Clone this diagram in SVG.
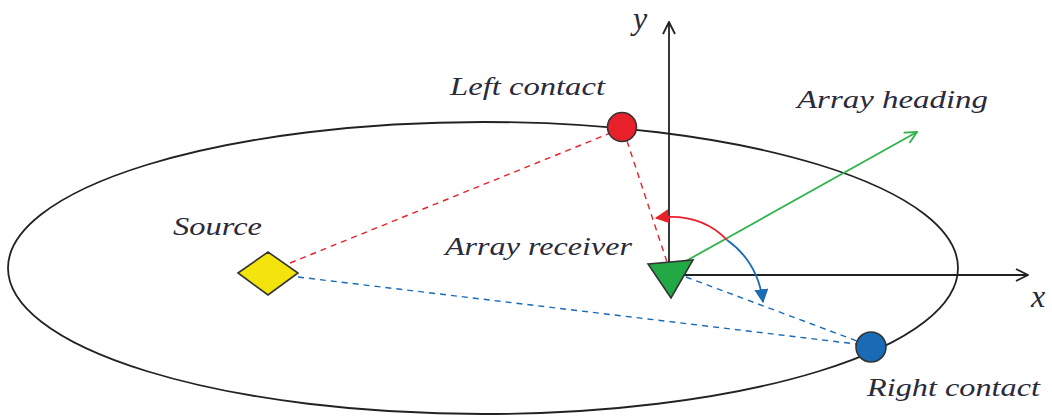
<svg xmlns="http://www.w3.org/2000/svg" width="1052" height="417" viewBox="0 0 1052 417">
<defs>
<style>
.lbl{font-family:"Liberation Serif","Times New Roman","DejaVu Serif",serif;font-style:italic;fill:#2a2a3a;font-size:26px}
.big{font-size:32px}
.axis{stroke:#222;stroke-width:1.8;fill:none}
.dash{stroke-width:1.4;stroke-dasharray:6 5;fill:none}
</style>
<marker id="open" viewBox="0 0 14 14" refX="13" refY="7" markerWidth="14" markerHeight="14" markerUnits="userSpaceOnUse" orient="auto">
<path d="M1,1 L13,7 L1,13" fill="none" stroke="#222" stroke-width="1.8"/>
</marker>
<marker id="redhead" viewBox="0 0 12 12" refX="11" refY="6" markerWidth="14" markerHeight="14" markerUnits="userSpaceOnUse" orient="auto">
<path d="M0,0 L12,6 L0,12 Z" fill="#e8202a"/>
</marker>
<marker id="bluehead" viewBox="0 0 12 12" refX="11" refY="6" markerWidth="14" markerHeight="14" markerUnits="userSpaceOnUse" orient="auto">
<path d="M0,0 L12,6 L0,12 Z" fill="#1a6bb5"/>
</marker>
<marker id="greenhead" viewBox="0 0 14 14" refX="13" refY="7" markerWidth="14" markerHeight="14" markerUnits="userSpaceOnUse" orient="auto">
<path d="M1,1 L13,7 L1,13" fill="none" stroke="#2db34a" stroke-width="1.8"/>
</marker>
</defs>
<rect width="1052" height="417" fill="#fff"/>
<ellipse cx="483" cy="268" rx="475" ry="146" fill="none" stroke="#222" stroke-width="1.8"/>
<g id="connectors">
<line class="axis" x1="669" y1="262" x2="669" y2="22" marker-end="url(#open)"/>
<line class="axis" x1="684" y1="275" x2="1028" y2="275" marker-end="url(#open)"/>
<line class="dash" stroke="#e8202a" x1="290" y1="263" x2="613" y2="132"/>
<line class="dash" stroke="#e8202a" x1="627" y1="141" x2="667" y2="262"/>
<line class="dash" stroke="#1a6bb5" x1="298" y1="277" x2="856" y2="344"/>
<line class="dash" stroke="#1a6bb5" x1="686" y1="277" x2="857" y2="341"/>
<line x1="686" y1="261" x2="917" y2="132" stroke="#2db34a" stroke-width="1.8" marker-end="url(#greenhead)"/>
<path d="M727,240 Q700,212 656,218" fill="none" stroke="#e8202a" stroke-width="1.8" marker-end="url(#redhead)"/>
<path d="M727,240 Q758,262 763,302" fill="none" stroke="#1a6bb5" stroke-width="1.8" marker-end="url(#bluehead)"/>
</g>
<g id="source">
<polygon points="238,273 268,252 298,273 268,295" fill="#f2e40c" stroke="#333" stroke-width="1.6"/>
<text class="lbl" x="173" y="235" textLength="89" lengthAdjust="spacingAndGlyphs">Source</text>
</g>
<g id="left-contact">
<circle cx="622" cy="127" r="14.5" fill="#e8202a" stroke="#333" stroke-width="1.6"/>
<text class="lbl" x="450" y="95" textLength="155" lengthAdjust="spacingAndGlyphs">Left contact</text>
</g>
<g id="right-contact">
<circle cx="871" cy="347" r="15" fill="#1a6bb5" stroke="#333" stroke-width="1.6"/>
<text class="lbl" x="867" y="396" textLength="173" lengthAdjust="spacingAndGlyphs">Right contact</text>
</g>
<g id="receiver">
<polygon points="648,264 693,260 671,298" fill="#22a845" stroke="#333" stroke-width="1.6"/>
<text class="lbl" x="445" y="255" textLength="187" lengthAdjust="spacingAndGlyphs">Array receiver</text>
</g>
<g id="heading-label">
<text class="lbl" x="797" y="108" textLength="191" lengthAdjust="spacingAndGlyphs">Array heading</text>
</g>
<g id="axis-labels">
<text class="lbl big" x="633" y="29">y</text>
<text class="lbl big" x="1031" y="307">x</text>
</g>
</svg>
